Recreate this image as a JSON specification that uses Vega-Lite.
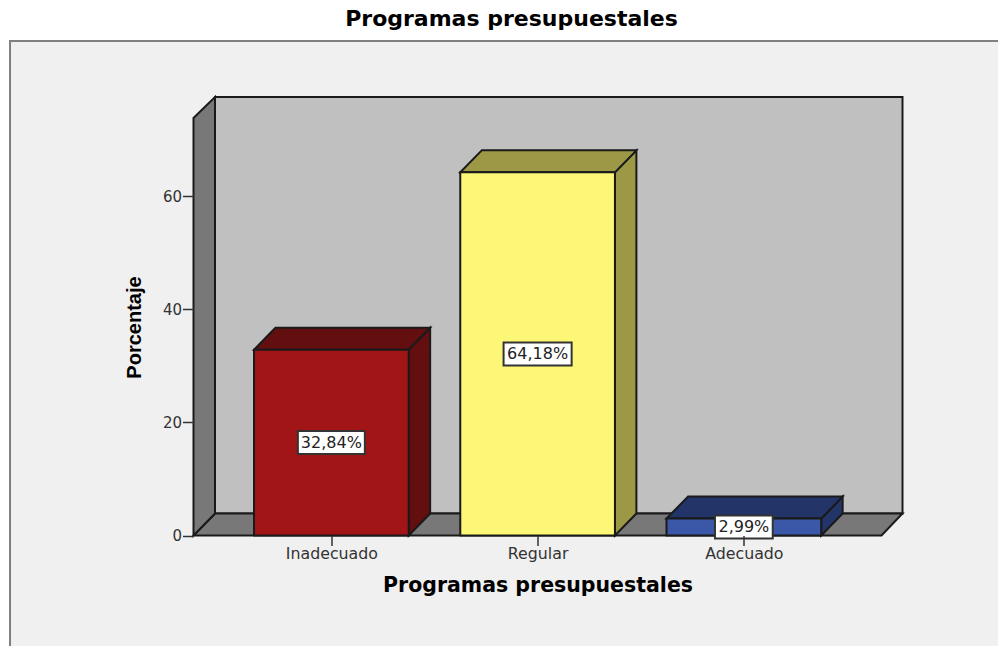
{
"$schema":"https://vega.github.io/schema/vega-lite/v6.json",
"width":709,"height":438.5,
"autosize":{"type":"none"},
"padding":{"left":193.5,"top":97,"right":95.5,"bottom":110.5},
"background":"#ffffff",
"title":{"text":"Programas presupuestales","fontSize":22,"fontWeight":"bold","font":"DejaVu Sans","color":"#000000","anchor":"middle","frame":"group","dx":-36.5,"offset":9},
"config":{"view":{"stroke":null}},
"datasets":{
"panel":[{"x":-0.558,"x2":4.6,"y":-25,"y2":87.4}],
"fondo":[{"pieza":"fondo","x":0.4358,"x2":3.7692,"y":3.89,"y2":77.5}],
"laterales":[
{"pieza":"pared","x":0.3316,"y":0,"y2":73.8},
{"pieza":"pared","x":0.4358,"y":3.89,"y2":77.5},
{"pieza":"Inadecuado oscuro","x":1.375,"y":0,"y2":32.84},
{"pieza":"Inadecuado oscuro","x":1.479,"y":3.89,"y2":36.73},
{"pieza":"Regular oscuro","x":2.375,"y":0,"y2":64.18},
{"pieza":"Regular oscuro","x":2.479,"y":3.89,"y2":68.07},
{"pieza":"Adecuado oscuro","x":3.375,"y":0,"y2":2.99},
{"pieza":"Adecuado oscuro","x":3.479,"y":3.89,"y2":6.88}
],
"superiores":[
{"pieza":"pared","y":0,"x":0.3316,"x2":3.6674},
{"pieza":"pared","y":3.89,"x":0.4358,"x2":3.7692},
{"pieza":"Inadecuado oscuro","y":32.84,"x":0.625,"x2":1.375},
{"pieza":"Inadecuado oscuro","y":36.73,"x":0.729,"x2":1.479},
{"pieza":"Regular oscuro","y":64.18,"x":1.625,"x2":2.375},
{"pieza":"Regular oscuro","y":68.07,"x":1.729,"x2":2.479},
{"pieza":"Adecuado oscuro","y":2.99,"x":2.625,"x2":3.375},
{"pieza":"Adecuado oscuro","y":6.88,"x":2.729,"x2":3.479}
],
"barras":[
{"pieza":"Inadecuado","posicion":1,"inicio":0.625,"fin":1.375,"base":0,"porcentaje":32.84,"medio":16.42,"etiqueta":"32,84%","cajaX":0.8376,"cajaX2":1.1624,"cajaY":14.39,"cajaY2":18.45},
{"pieza":"Regular","posicion":2,"inicio":1.625,"fin":2.375,"base":0,"porcentaje":64.18,"medio":32.09,"etiqueta":"64,18%","cajaX":1.835,"cajaX2":2.165,"cajaY":30.06,"cajaY2":34.12},
{"pieza":"Adecuado","posicion":3,"inicio":2.625,"fin":3.375,"base":0,"porcentaje":2.99,"medio":1.5,"etiqueta":"2,99%","cajaX":2.86,"cajaX2":3.14,"cajaY":-0.53,"cajaY2":3.53}
]
},
"layer":[
{"data":{"name":"panel"},"mark":{"type":"rect","fill":"#f0f0f0","stroke":"#808080","strokeWidth":2},
 "encoding":{
  "x":{"field":"x","type":"quantitative","scale":{"domain":[0.3316,3.7692],"nice":false,"zero":false},
   "axis":{"values":[1,2,3],"labelExpr":"datum.value==1?'Inadecuado':datum.value==2?'Regular':'Adecuado'","grid":false,"domain":false,"zindex":1,"tickColor":"#333333","tickSize":10,"tickWidth":1.5,"labelFont":"DejaVu Sans","labelFontSize":15.8,"labelColor":"#333333","labelPadding":1,"labelAngle":0,"title":"Programas presupuestales","titleFont":"DejaVu Sans","titleFontSize":20.5,"titleFontWeight":"bold","titleColor":"#000000","titleX":344,"titleY":49.5,"titleBaseline":"middle"}},
  "x2":{"field":"x2"},
  "y":{"field":"y","type":"quantitative","scale":{"domain":[0,77.5],"nice":false,"zero":false},
   "axis":{"values":[0,20,40,60],"grid":false,"domain":false,"zindex":1,"tickColor":"#333333","tickSize":11,"tickWidth":1.5,"labelFont":"DejaVu Sans","labelFontSize":15,"labelColor":"#333333","labelPadding":1,"title":"Porcentaje","titleFont":"Liberation Sans","titleFontSize":20,"titleFontWeight":"bold","titleColor":"#000000","titleX":-59,"titleY":230,"titleBaseline":"middle"}},
  "y2":{"field":"y2"}}},
{"data":{"name":"fondo"},"mark":{"type":"rect","stroke":"#1a1a1a","strokeWidth":2},
 "encoding":{"x":{"field":"x","type":"quantitative"},"x2":{"field":"x2"},"y":{"field":"y","type":"quantitative"},"y2":{"field":"y2"},
  "color":{"field":"pieza","type":"nominal","legend":null,"scale":{"domain":["fondo","pared","Inadecuado","Inadecuado oscuro","Regular","Regular oscuro","Adecuado","Adecuado oscuro"],"range":["#c0c0c0","#787878","#a11517","#630e0f","#fcf777","#9c9846","#3b58a8","#233468"]}}}},
{"data":{"name":"superiores"},"transform":[{"filter":"datum.pieza=='pared'"}],"mark":{"type":"area","orient":"horizontal","stroke":"#1a1a1a","strokeWidth":2,"opacity":1},
 "encoding":{"y":{"field":"y","type":"quantitative"},"x":{"field":"x","type":"quantitative"},"x2":{"field":"x2"},"color":{"field":"pieza","type":"nominal","legend":null}}},
{"data":{"name":"laterales"},"mark":{"type":"area","stroke":"#1a1a1a","strokeWidth":2,"opacity":1},
 "encoding":{"x":{"field":"x","type":"quantitative"},"y":{"field":"y","type":"quantitative"},"y2":{"field":"y2"},"color":{"field":"pieza","type":"nominal","legend":null}}},
{"data":{"name":"superiores"},"transform":[{"filter":"datum.pieza!='pared'"}],"mark":{"type":"area","orient":"horizontal","stroke":"#1a1a1a","strokeWidth":2,"opacity":1},
 "encoding":{"y":{"field":"y","type":"quantitative"},"x":{"field":"x","type":"quantitative"},"x2":{"field":"x2"},"color":{"field":"pieza","type":"nominal","legend":null}}},
{"data":{"name":"barras"},"mark":{"type":"rect","stroke":"#1a1a1a","strokeWidth":2},
 "encoding":{"x":{"field":"inicio","type":"quantitative"},"x2":{"field":"fin"},"y":{"field":"base","type":"quantitative"},"y2":{"field":"porcentaje"},"color":{"field":"pieza","type":"nominal","legend":null}}},
{"data":{"name":"barras"},"mark":{"type":"rect","fill":"#ffffff","stroke":"#333333","strokeWidth":2},
 "encoding":{"x":{"field":"cajaX","type":"quantitative"},"x2":{"field":"cajaX2"},"y":{"field":"cajaY","type":"quantitative"},"y2":{"field":"cajaY2"}}},
{"data":{"name":"barras"},"mark":{"type":"text","font":"DejaVu Sans","fontSize":16,"color":"#222222","baseline":"middle","align":"center"},
 "encoding":{"x":{"field":"posicion","type":"quantitative"},"y":{"field":"medio","type":"quantitative"},"text":{"field":"etiqueta","type":"nominal"}}}
]
}
